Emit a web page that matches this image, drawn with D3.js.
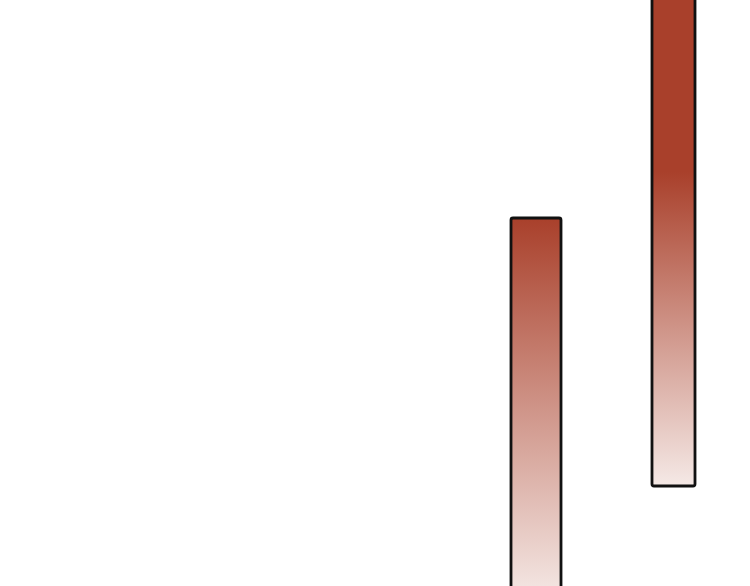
<!DOCTYPE html>
<html>
<head>
<meta charset="utf-8">
<script src="https://cdn.jsdelivr.net/npm/d3@7"></script>
<style>
  html, body { margin: 0; padding: 0; background: #ffffff; overflow: hidden; }
  svg { display: block; }
</style>
</head>
<body>
<svg id="chart" width="750" height="586"></svg>
<script>
// Data (zoomed-in view of a floating-bar chart)
const categories = ["A", "B"];
const binStart = [51.1, 65.2];
const binEnd = [56.1, 69.5];
const lowValues = [0, 28.5];
const highValues = [95.5, 155];
const gradientCap = 107; // value above which the fill stays fully dark

const width = 750, height = 586;
const svg = d3.select("#chart");

const x = d3.scaleLinear().domain([0, 75]).range([0, width]);
const y = d3.scaleLinear().domain([0, 100]).range([600, 200]);

const data = categories.map((c, i) => ({
  cat: c, x0: binStart[i], x1: binEnd[i], lo: lowValues[i], hi: highValues[i]
}));

const defs = svg.append("defs");
data.forEach((d, i) => {
  const g = defs.append("linearGradient")
    .attr("id", "barGrad" + i)
    .attr("gradientUnits", "userSpaceOnUse")
    .attr("x1", 0).attr("x2", 0)
    .attr("y1", y(Math.min(d.hi, gradientCap))).attr("y2", y(d.lo));
  g.append("stop").attr("offset", "0%").attr("stop-color", "#a9402b");
  g.append("stop").attr("offset", "100%").attr("stop-color", "#f5e9e6");
});

svg.append("g")
  .selectAll("rect")
  .data(data)
  .join("rect")
  .attr("x", d => x(d.x0))
  .attr("width", d => x(d.x1) - x(d.x0))
  .attr("y", d => y(d.hi))
  .attr("height", d => y(d.lo) - y(d.hi))
  .attr("rx", 2).attr("ry", 2)
  .attr("fill", (d, i) => `url(#barGrad${i})`)
  .attr("stroke", "#111")
  .attr("stroke-width", 2.8);
</script>
</body>
</html>
